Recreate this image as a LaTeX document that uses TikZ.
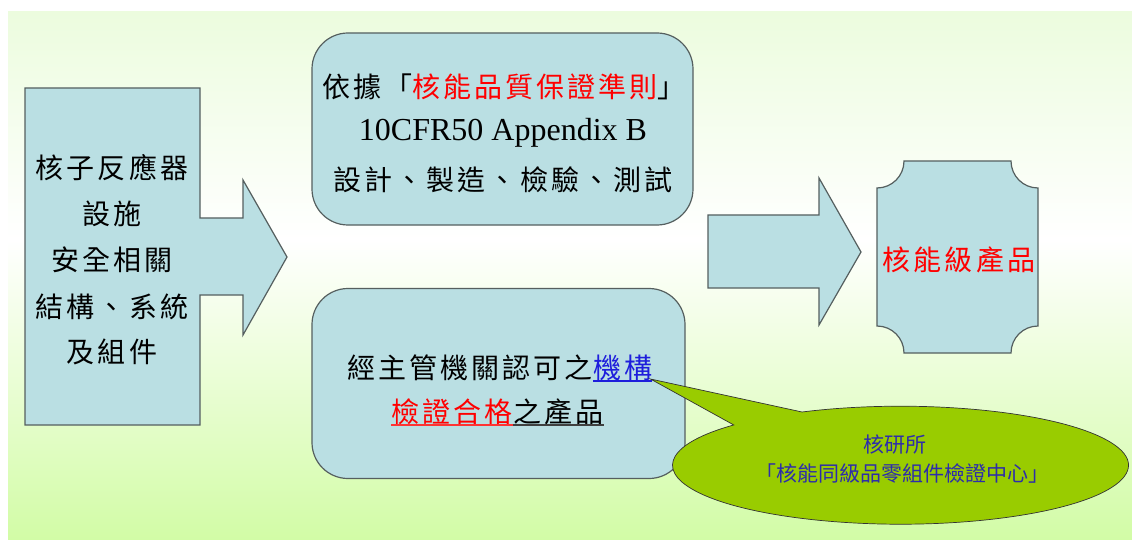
\documentclass[tikz,border=0pt]{standalone}
\usepackage{fontspec}
\setmainfont{Liberation Serif}
\newfontfamily\cjk[LetterSpace=11]{Noto Sans CJK TC}
\newfontfamily\cjkn{Noto Sans CJK TC}
\newfontfamily\latn{Liberation Serif}
\definecolor{bgtop}{RGB}{236,252,222}
\definecolor{bgbot}{RGB}{210,252,166}
\definecolor{boxfill}{RGB}{186,223,227}
\definecolor{boxline}{RGB}{85,95,95}
\definecolor{calloutgreen}{RGB}{153,204,0}
\definecolor{txtred}{RGB}{255,0,0}
\definecolor{txtblue}{RGB}{30,30,220}
\definecolor{calltxt}{RGB}{45,45,170}
\tikzset{
  shapebox/.style={fill=boxfill, draw=boxline, line width=1.2pt, line join=miter},
  bigtxt/.style={inner sep=0pt, font=\fontsize{28}{30}\selectfont\cjk, text=black},
  smalltxt/.style={inner sep=0pt, font=\fontsize{21}{24}\selectfont\cjkn, text=calltxt},
}
\begin{document}
\begin{tikzpicture}[x=1pt,y=-1pt]
\useasboundingbox (0,0) rectangle (1132,540);
% background
\shade[top color=bgtop, bottom color=white] (8,12) rectangle (1132,240);
\shade[top color=white, bottom color=bgbot] (8,239.5) rectangle (1132,540);

% left arrow callout
\draw[shapebox] (25,88) -- (200,88) -- (200,218) -- (243,218) -- (243,180) -- (287,257)
  -- (243,335) -- (243,295) -- (200,295) -- (200,425) -- (25,425) -- cycle;
\node[bigtxt] (l1) at (112,168) {核子反應器};
\node[bigtxt] (l2) at (112,214) {設施};
\node[bigtxt] (l3) at (112,260) {安全相關};
\node[bigtxt] (l4) at (112,307) {結構、系統};
\node[bigtxt] (l5) at (112,352) {及組件};

% top rounded box
\node[shapebox, rounded corners=36pt, minimum width=381pt, minimum height=192pt] (topbox) at (502.5,129) {};
\node[bigtxt] (t1) at (504,87) {依據「\textcolor{txtred}{核能品質保證準則}」};
\node[inner sep=0pt, font=\fontsize{32}{34}\selectfont\latn] (t2) at (503,133) {10CFR50 Appendix B};
\node[bigtxt] (t3) at (503,180) {設計、製造、檢驗、測試};

% bottom rounded box
\node[shapebox, rounded corners=36pt, minimum width=373pt, minimum height=190pt] (botbox) at (498.5,383.5) {};
\node[bigtxt, anchor=base east] (b1a) at (593,378) {經主管機關認可之};
\node[bigtxt, anchor=base west] (b1b) at (593,378) {\textcolor{txtblue}{機構}};
\node[bigtxt, anchor=base east] (b2a) at (513,422) {\textcolor{txtred}{檢證合格}};
\node[bigtxt, anchor=base west] (b2b) at (513,422) {之產品};
\draw[txtblue, line width=1.4pt] ([yshift=-3pt]b1b.base west) -- ([yshift=-3pt]b1b.base east);
\draw[txtred!80, line width=1.4pt] ([yshift=-3pt]b2a.base west) -- ([yshift=-3pt]b2a.base east);
\draw[black!75, line width=1.4pt] ([yshift=-3pt]b2b.base west) -- ([yshift=-3pt]b2b.base east);

% middle arrow
\draw[shapebox] (708,215) -- (819,215) -- (819,178) -- (861,252) -- (819,325) -- (819,288) -- (708,288) -- cycle;

% product plaque
\draw[shapebox] (904,161) -- (1011,161) arc[start angle=180, end angle=90, radius=27]
  -- (1038,326) arc[start angle=270, end angle=180, radius=27]
  -- (904,353) arc[start angle=0, end angle=-90, radius=27]
  -- (877,188) arc[start angle=90, end angle=0, radius=27] -- cycle;
\node[bigtxt, text=txtred] (prod) at (959,260) {核能級產品};

% callout
\coordinate (tip) at ([xshift=-2pt,yshift=-1pt]b1b.base east);
\draw[fill=calloutgreen, draw=black!80, line width=0.7pt] (802,412)
  arc[start angle=-115.6, end angle=223, x radius=228, y radius=59] -- (tip) -- cycle;
\node[smalltxt] (c1) at (895,445) {核研所};
\node[smalltxt] (c2) at (902,473) {「核能同級品零組件檢證中心」};
\end{tikzpicture}
\end{document}
